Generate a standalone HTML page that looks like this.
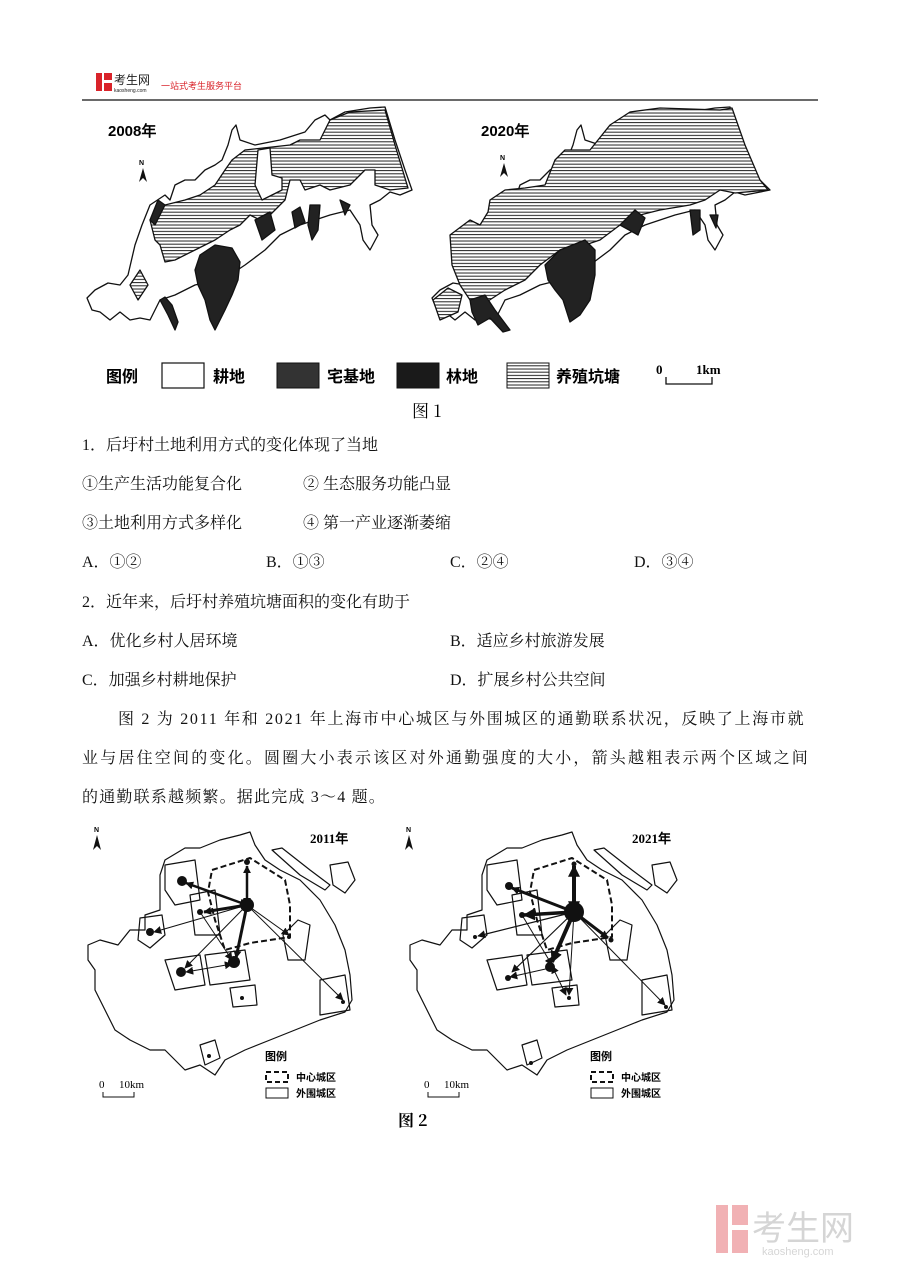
<!DOCTYPE html>
<html><head><meta charset="utf-8"><style>
body{margin:0;background:#fff;}
#p{position:relative;width:900px;height:1273px;overflow:hidden;background:#fff;font-family:"Liberation Serif","Noto Serif CJK SC",serif;color:#111;}
.t{position:absolute;font-size:16px;line-height:20px;white-space:nowrap;}
svg{position:absolute;left:0;top:0;}
</style></head><body><div id="p">
<svg width="900" height="1273" viewBox="0 0 900 1273">
<defs>
<pattern id="h" width="6" height="3.2" patternUnits="userSpaceOnUse"><rect width="6" height="3.2" fill="#fff"/><line x1="0" y1="1" x2="6" y2="1" stroke="#222" stroke-width="1"/></pattern>
<marker id="a" viewBox="0 0 10 10" refX="9" refY="5" markerUnits="userSpaceOnUse" markerWidth="8" markerHeight="8" orient="auto-start-reverse"><path d="M0,0L10,5L0,10z" fill="#111"/></marker>
<marker id="b" viewBox="0 0 10 10" refX="9" refY="5" markerUnits="userSpaceOnUse" markerWidth="12" markerHeight="12" orient="auto-start-reverse"><path d="M0,0L10,5L0,10z" fill="#111"/></marker>
</defs>
<rect x="96" y="73" width="6" height="18" fill="#d9232a"/><rect x="104" y="73" width="8" height="7" fill="#d9232a"/><rect x="104" y="83" width="8" height="8" fill="#d9232a"/>
<text x="114" y="84" font-size="12" font-family="Noto Sans CJK SC,sans-serif" fill="#222">考生网</text>
<text x="114" y="92" font-size="5" font-family="Liberation Sans,sans-serif" fill="#222">kaosheng.com</text>
<text x="161" y="89" font-size="9" font-family="Noto Sans CJK SC,sans-serif" fill="#d9232a">一站式考生服务平台</text>
<line x1="82" y1="100" x2="818" y2="100" stroke="#111" stroke-width="1.3"/>
<g stroke="#111" stroke-width="1.3" stroke-linejoin="round">
<polygon fill="#fff" points="87,298 95,290 108,283 120,285 128,275 135,245 142,225 150,205 165,195 170,200 175,185 185,180 195,180 205,170 215,165 222,160 228,145 232,130 236,125 240,140 255,145 280,140 305,132 315,120 325,115 330,120 345,112 370,108 385,107 395,140 405,170 412,190 400,195 390,192 380,200 370,205 372,225 378,235 370,250 363,240 360,225 350,210 330,215 300,225 280,235 265,250 245,265 230,275 215,280 195,285 175,295 160,300 155,310 150,320 140,318 130,320 120,312 110,320 100,312 92,310"/>
<polygon fill="url(#h)" points="150,220 165,205 185,200 200,195 215,185 225,170 232,160 245,150 290,145 300,140 320,140 330,120 350,112 385,110 395,145 408,188 390,190 375,185 375,170 365,170 350,185 330,190 320,185 305,190 300,180 290,180 285,200 270,215 260,220 250,215 240,225 230,230 215,240 195,250 175,260 165,262 160,245 155,240"/>
<polygon fill="#fff" points="258,150 270,148 272,175 282,178 282,190 262,200 255,185"/>
<polygon fill="url(#h)" points="130,285 140,270 148,285 138,300"/>
<g fill="#222">
<polygon points="200,255 215,245 232,248 240,262 238,280 232,295 225,310 215,330 210,320 205,300 198,285 195,270"/>
<polygon points="255,220 270,212 275,230 262,240"/>
<polygon points="292,212 300,207 305,222 295,228"/>
<polygon points="310,205 320,205 318,230 312,240 308,225"/>
<polygon points="340,200 350,205 345,215"/>
<polygon points="160,300 168,315 175,330 178,322 172,305 165,297"/>
<polygon points="150,220 158,200 165,205 155,225"/>
</g>
</g>
<text x="108" y="136" font-size="15" font-weight="bold" font-family="Liberation Sans,sans-serif">2008年</text>
<text x="139" y="165" font-size="7" font-weight="bold" font-family="Liberation Sans,sans-serif">N</text>
<path d="M143,168 L139,182 L143,178 L147,182 Z" fill="#111"/>
<g stroke="#111" stroke-width="1.3" stroke-linejoin="round">
<polygon fill="#fff" points="432,298 440,290 453,283 465,285 473,275 480,245 487,225 495,205 510,195 515,200 520,185 530,180 540,180 550,170 560,165 567,160 573,145 577,130 581,125 585,140 600,145 625,140 650,132 660,120 670,115 675,120 690,112 715,108 730,107 740,140 750,170 770,190 745,195 735,192 725,200 715,205 717,225 723,235 715,250 708,240 705,225 695,210 675,215 645,225 625,235 610,250 590,265 575,275 560,280 540,285 520,295 505,300 500,310 495,320 485,318 475,320 465,312 455,320 445,312 437,310"/>
<polygon fill="url(#h)" points="450,235 470,220 480,225 488,212 490,200 505,190 525,188 545,185 555,160 565,150 590,150 610,125 630,112 660,108 720,110 732,108 745,145 760,180 768,190 735,193 720,190 705,200 690,205 660,210 640,215 620,225 600,240 585,245 560,250 540,265 525,280 505,290 485,303 470,300 460,285 452,265"/>
<polygon fill="url(#h)" points="433,300 448,288 462,295 458,312 440,320"/>
<g fill="#222">
<polygon points="545,265 560,250 585,240 595,250 595,275 590,300 580,315 570,322 563,300 555,290 548,280"/>
<polygon points="620,225 635,210 645,218 638,235"/>
<polygon points="690,210 700,210 700,230 693,235"/>
<polygon points="710,215 718,215 716,228"/>
<polygon points="470,300 485,295 495,310 510,330 503,332 490,318 478,325 472,312"/>
</g>
</g>
<text x="481" y="136" font-size="15" font-weight="bold" font-family="Liberation Sans,sans-serif">2020年</text>
<text x="500" y="160" font-size="7" font-weight="bold" font-family="Liberation Sans,sans-serif">N</text>
<path d="M504,163 L500,177 L504,173 L508,177 Z" fill="#111"/>
<text x="106" y="382" font-size="16" font-weight="bold" font-family="Noto Sans CJK SC,sans-serif">图例</text>
<rect x="162" y="363" width="42" height="25" fill="#fff" stroke="#111" stroke-width="1.2"/>
<text x="213" y="382" font-size="16" font-weight="bold" font-family="Noto Sans CJK SC,sans-serif">耕地</text>
<rect x="277" y="363" width="42" height="25" fill="#333" stroke="#111"/>
<text x="327" y="382" font-size="16" font-weight="bold" font-family="Noto Sans CJK SC,sans-serif">宅基地</text>
<rect x="397" y="363" width="42" height="25" fill="#1a1a1a" stroke="#111"/>
<text x="446" y="382" font-size="16" font-weight="bold" font-family="Noto Sans CJK SC,sans-serif">林地</text>
<rect x="507" y="363" width="42" height="25" fill="url(#h)" stroke="#111"/>
<text x="556" y="382" font-size="16" font-weight="bold" font-family="Noto Sans CJK SC,sans-serif">养殖坑塘</text>
<text x="656" y="374" font-size="13" font-weight="bold" font-family="Liberation Serif,serif">0</text>
<text x="696" y="374" font-size="13" font-weight="bold" font-family="Liberation Serif,serif">1km</text>
<path d="M666,377 V384 H712 V377" fill="none" stroke="#111" stroke-width="1.3"/>
<text x="412" y="417" font-size="17" font-family="Noto Serif CJK SC,serif">图 1</text>
<g id="m2" stroke="#111" stroke-width="1.2" fill="none" stroke-linejoin="round">
<polygon fill="#fff" points="88,945 100,940 118,945 130,930 145,930 145,915 160,910 160,875 165,860 185,848 200,848 220,840 240,835 250,832 255,845 265,860 280,870 300,880 320,900 335,925 345,950 350,975 352,1000 345,1012 320,1020 300,1028 270,1040 245,1050 225,1060 215,1075 200,1065 185,1070 175,1060 165,1050 150,1050 130,1040 115,1030 105,1010 95,990 95,970 88,960"/>
<polygon points="165,865 195,860 200,900 175,905 165,890"/>
<polygon points="140,918 162,915 165,935 150,948 138,940"/>
<polygon points="190,895 215,890 220,935 195,935"/>
<polygon points="165,960 200,955 205,985 175,990"/>
<polygon points="205,955 245,950 250,980 210,985"/>
<polygon points="283,935 298,920 310,925 305,960 288,960"/>
<polygon points="230,988 255,985 257,1005 233,1007"/>
<polygon points="320,980 345,975 350,1010 320,1015"/>
<polygon points="200,1045 215,1040 220,1058 205,1065"/>
<polygon points="272,850 282,848 310,870 330,885 325,890 300,875"/>
<polygon points="330,865 348,862 355,880 345,893 333,885"/>
<polygon stroke-width="2" stroke-dasharray="6,3" points="212,870 250,858 285,880 290,905 290,937 250,943 225,950 215,920 208,892"/>
</g>
<g stroke="#111" fill="none">
<line x1="247" y1="905" x2="247" y2="866" stroke-width="2.5" marker-end="url(#a)" marker-start="url(#a)"/>
<line x1="247" y1="905" x2="186" y2="883" stroke-width="2.5" marker-end="url(#a)" marker-start="url(#a)"/>
<line x1="247" y1="905" x2="204" y2="912" stroke-width="3" marker-end="url(#a)"/>
<line x1="247" y1="905" x2="154" y2="932" stroke-width="1" marker-end="url(#a)"/>
<line x1="247" y1="905" x2="236" y2="958" stroke-width="3" marker-end="url(#a)"/>
<line x1="247" y1="905" x2="185" y2="968" stroke-width="1" marker-end="url(#a)"/>
<line x1="247" y1="905" x2="289" y2="935" stroke-width="1" marker-end="url(#a)"/>
<line x1="247" y1="905" x2="343" y2="1000" stroke-width="1" marker-end="url(#a)"/>
<line x1="200" y1="912" x2="232" y2="960" stroke-width="1" marker-end="url(#a)"/>
<line x1="232" y1="964" x2="186" y2="972" stroke-width="1" marker-end="url(#a)" marker-start="url(#a)"/>
</g>
<g fill="#111"><circle cx="247" cy="905" r="7"/><circle cx="182" cy="881" r="5"/><circle cx="200" cy="912" r="3"/><circle cx="150" cy="932" r="4"/><circle cx="181" cy="972" r="5"/><circle cx="234" cy="962" r="6"/><circle cx="247" cy="862" r="3"/><circle cx="289" cy="937" r="2"/><circle cx="242" cy="998" r="2"/><circle cx="343" cy="1002" r="2"/><circle cx="209" cy="1056" r="2"/></g>
<text x="310" y="843" font-size="13" font-weight="bold" font-family="Liberation Serif,serif">2011年</text>
<text x="94" y="832" font-size="7" font-weight="bold" font-family="Liberation Sans,sans-serif">N</text>
<path d="M97,835 L93,850 L97,846 L101,850 Z" fill="#111"/>
<g id="lg">
<text x="265" y="1060" font-size="11" font-weight="bold" font-family="Noto Sans CJK SC,sans-serif">图例</text>
<rect x="266" y="1072" width="22" height="10" fill="none" stroke="#111" stroke-width="2" stroke-dasharray="5,3"/>
<text x="296" y="1081" font-size="10" font-weight="bold" font-family="Noto Sans CJK SC,sans-serif">中心城区</text>
<rect x="266" y="1088" width="22" height="10" fill="none" stroke="#111"/>
<text x="296" y="1097" font-size="10" font-weight="bold" font-family="Noto Sans CJK SC,sans-serif">外围城区</text>
<text x="99" y="1088" font-size="11" font-family="Liberation Serif,serif">0</text><text x="119" y="1088" font-size="11" font-family="Liberation Serif,serif">10km</text>
<path d="M103,1092 V1097 H134 V1092" fill="none" stroke="#111"/>
</g>
<use href="#m2" x="322" y="0"/>
<use href="#lg" x="325" y="0"/>
<g stroke="#111" fill="none">
<line x1="574" y1="912" x2="574" y2="866" stroke-width="4" marker-end="url(#b)" marker-start="url(#b)"/>
<line x1="574" y1="912" x2="512" y2="888" stroke-width="3" marker-end="url(#a)" marker-start="url(#a)"/>
<line x1="574" y1="912" x2="524" y2="915" stroke-width="3.5" marker-end="url(#b)"/>
<line x1="574" y1="912" x2="478" y2="936" stroke-width="1.2" marker-end="url(#a)"/>
<line x1="574" y1="912" x2="552" y2="962" stroke-width="4" marker-end="url(#b)"/>
<line x1="574" y1="912" x2="512" y2="972" stroke-width="1.2" marker-end="url(#a)"/>
<line x1="574" y1="912" x2="608" y2="938" stroke-width="3" marker-end="url(#a)" marker-start="url(#a)"/>
<line x1="574" y1="912" x2="665" y2="1005" stroke-width="1" marker-end="url(#a)"/>
<line x1="574" y1="912" x2="569" y2="995" stroke-width="1" marker-end="url(#a)"/>
<line x1="522" y1="915" x2="552" y2="965" stroke-width="1" marker-end="url(#a)"/>
<line x1="552" y1="966" x2="566" y2="995" stroke-width="1" marker-end="url(#a)" marker-start="url(#a)"/>
<line x1="550" y1="968" x2="510" y2="977" stroke-width="1" marker-end="url(#a)"/>
</g>
<g fill="#111"><circle cx="574" cy="912" r="10"/><circle cx="509" cy="886" r="4"/><circle cx="522" cy="915" r="3"/><circle cx="475" cy="937" r="2"/><circle cx="508" cy="978" r="3"/><circle cx="550" cy="967" r="5"/><circle cx="574" cy="864" r="2.5"/><circle cx="611" cy="940" r="2.5"/><circle cx="569" cy="998" r="2"/><circle cx="666" cy="1007" r="2"/><circle cx="531" cy="1063" r="2"/></g>
<text x="632" y="843" font-size="13" font-weight="bold" font-family="Liberation Serif,serif">2021年</text>
<text x="406" y="832" font-size="7" font-weight="bold" font-family="Liberation Sans,sans-serif">N</text>
<path d="M409,835 L405,850 L409,846 L413,850 Z" fill="#111"/>
<text x="398" y="1126" font-size="16" font-weight="bold" font-family="Noto Serif CJK SC,serif">图 2</text>
<g opacity="0.35"><rect x="716" y="1205" width="12" height="48" fill="#d9232a"/><rect x="732" y="1205" width="16" height="20" fill="#d9232a"/><rect x="732" y="1230" width="16" height="23" fill="#d9232a"/>
<text x="752" y="1240" font-size="34" font-family="Noto Sans CJK SC,sans-serif" fill="#888">考生网</text>
<text x="762" y="1255" font-size="11" font-family="Liberation Sans,sans-serif" fill="#888">kaosheng.com</text></g>
</svg>
<div class="t" style="left:82px;top:436px">1．后圩村土地利用方式的变化体现了当地</div>
<div class="t" style="left:82px;top:475px">①生产生活功能复合化</div>
<div class="t" style="left:303px;top:475px">② 生态服务功能凸显</div>
<div class="t" style="left:82px;top:514px">③土地利用方式多样化</div>
<div class="t" style="left:303px;top:514px">④ 第一产业逐渐萎缩</div>
<div class="t" style="left:82px;top:553px">A．①②</div>
<div class="t" style="left:266px;top:553px">B．①③</div>
<div class="t" style="left:450px;top:553px">C．②④</div>
<div class="t" style="left:634px;top:553px">D．③④</div>
<div class="t" style="left:82px;top:593px">2．近年来，后圩村养殖坑塘面积的变化有助于</div>
<div class="t" style="left:82px;top:632px">A．优化乡村人居环境</div>
<div class="t" style="left:450px;top:632px">B．适应乡村旅游发展</div>
<div class="t" style="left:82px;top:671px">C．加强乡村耕地保护</div>
<div class="t" style="left:450px;top:671px">D．扩展乡村公共空间</div>
<div class="t" style="left:118px;top:710px;letter-spacing:1.7px">图 2 为 2011 年和 2021 年上海市中心城区与外围城区的通勤联系状况，反映了上海市就</div>
<div class="t" style="left:82px;top:749px;letter-spacing:2.2px">业与居住空间的变化。圆圈大小表示该区对外通勤强度的大小，箭头越粗表示两个区域之间</div>
<div class="t" style="left:82px;top:788px;letter-spacing:1.2px">的通勤联系越频繁。据此完成 3～4 题。</div>
</div></body></html>
